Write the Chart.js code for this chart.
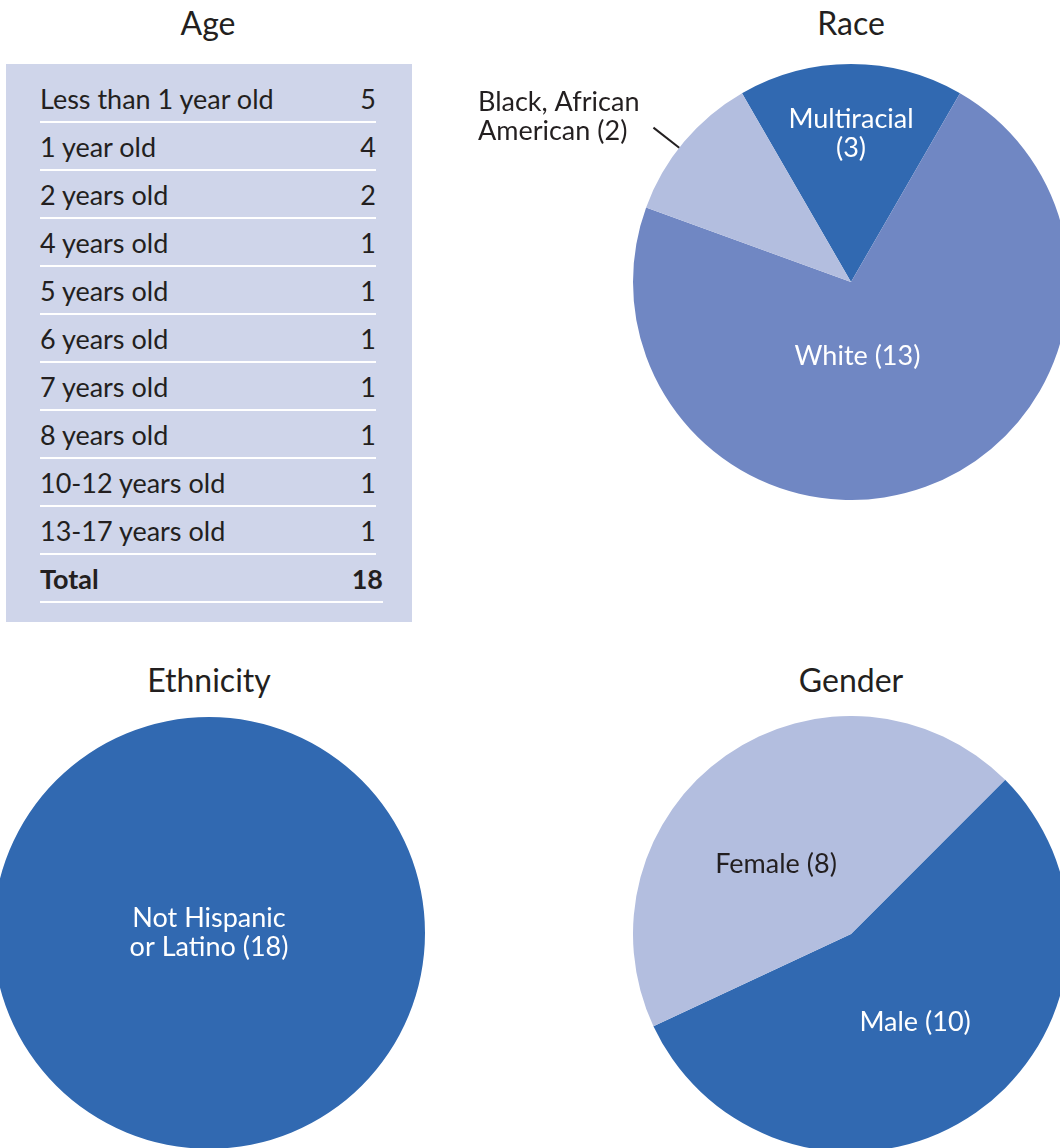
<!DOCTYPE html>
<html>
<head>
<meta charset="utf-8">
<script src="https://cdn.jsdelivr.net/npm/chart.js@4.4.1/dist/chart.umd.min.js"></script>
<style>
  body { margin: 0; width: 1060px; height: 1148px; overflow: hidden; position: relative; background: #fff;
         font-family: Lato, "Open Sans", sans-serif; color: #231f20; }
  .title { position: absolute; font-size: 32px; line-height: 32px; transform: translateX(-50%); white-space: nowrap; }
  canvas { position: absolute; }
  #ageBox { position: absolute; left: 6px; top: 64px; width: 406px; height: 558px; background: #cfd5ea; }
  .row { position: absolute; left: 34px; height: 46px; border-bottom: 2px solid #fff; display: flex;
         justify-content: space-between; align-items: center; font-size: 27px; }
  .row.total { font-weight: bold; }
</style>
</head>
<body>
<div class="title" style="left:208px; top:7px">Age</div>
<div class="title" style="left:851px; top:7px">Race</div>
<div class="title" style="left:209px; top:664px">Ethnicity</div>
<div class="title" style="left:851px; top:664px">Gender</div>

<div id="ageBox"></div>

<canvas id="race" width="620" height="436" style="left:460px; top:64px"></canvas>
<canvas id="ethnicity" width="432" height="432" style="left:-7px; top:717px"></canvas>
<canvas id="gender" width="436" height="436" style="left:633px; top:716px"></canvas>

<script>
// Age table
const ageLabels = ["Less than 1 year old", "1 year old", "2 years old", "4 years old", "5 years old",
  "6 years old", "7 years old", "8 years old", "10-12 years old", "13-17 years old"];
const ageCounts = [5, 4, 2, 1, 1, 1, 1, 1, 1, 1];

// Race pie
const raceLabels = ["Multiracial", "White", "Black, African American"];
const raceCounts = [3, 13, 2];

// Ethnicity pie
const ethnicityLabels = ["Not Hispanic or Latino"];
const ethnicityCounts = [18];

// Gender pie
const genderLabels = ["Male", "Female"];
const genderCounts = [10, 8];

const DARK = "#3169b1", MID = "#7087c3", LIGHT = "#b3bedf";

// build the age table
const box = document.getElementById("ageBox");
const rows = ageLabels.map((l, i) => [l, ageCounts[i], false]);
rows.push(["Total", ageCounts.reduce((a, b) => a + b, 0), true]);
rows.forEach(([label, n, isTotal], i) => {
  const row = document.createElement("div");
  row.className = "row" + (isTotal ? " total" : "");
  row.style.top = (11 + 48 * i) + "px";
  row.style.width = (isTotal ? 343 : 336) + "px";
  row.innerHTML = `<span>${label}</span><span>${n}</span>`;
  box.appendChild(row);
});

// draws the "Label (n)" text on each slice
const sliceLabels = {
  id: "sliceLabels",
  afterDatasetsDraw(chart, args, opts) {
    const ctx = chart.ctx;
    const ds = chart.data.datasets[0];
    chart.getDatasetMeta(0).data.forEach((arc, i) => {
      const st = opts.items[i];
      if (!st) return;
      const p = arc.getProps(["x", "y", "startAngle", "endAngle", "outerRadius"]);
      const words = `${chart.data.labels[i]} (${ds.data[i]})`.split(" ");
      const lines = st.breakAt
        ? [words.slice(0, st.breakAt).join(" "), words.slice(st.breakAt).join(" ")]
        : [words.join(" ")];
      const ang = st.angle != null ? (st.angle - 90) * Math.PI / 180 : (p.startAngle + p.endAngle) / 2;
      const lh = 29;
      ctx.save();
      ctx.font = "27px Lato, 'Open Sans', sans-serif";
      ctx.fillStyle = st.color;
      ctx.textBaseline = "middle";
      let tx, ty;
      if (st.outside) {
        const x0 = p.x + p.outerRadius * Math.cos(ang), y0 = p.y + p.outerRadius * Math.sin(ang);
        const x1 = p.x + p.outerRadius * st.outside * Math.cos(ang), y1 = p.y + p.outerRadius * st.outside * Math.sin(ang);
        ctx.strokeStyle = "#231f20";
        ctx.lineWidth = 2;
        ctx.beginPath();
        ctx.moveTo(x0, y0);
        ctx.lineTo(x1, y1);
        ctx.stroke();
        ctx.textAlign = "left";
        const w = Math.max(...lines.map(l => ctx.measureText(l).width));
        tx = x1 - 14 - w;
        ty = y1 - 11;
      } else {
        ctx.textAlign = "center";
        tx = p.x + p.outerRadius * st.dist * Math.cos(ang);
        ty = p.y + p.outerRadius * st.dist * Math.sin(ang);
      }
      lines.forEach((l, k) => ctx.fillText(l, tx, ty + (k - (lines.length - 1) / 2) * lh));
      ctx.restore();
    });
  }
};

function pie(id, labels, data, colors, rotation, items, padding) {
  new Chart(document.getElementById(id), {
    type: "pie",
    data: { labels, datasets: [{ data, backgroundColor: colors, borderWidth: 0, hoverOffset: 0 }] },
    options: {
      responsive: false,
      animation: false,
      rotation,
      layout: { padding: padding || 0 },
      plugins: { legend: { display: false }, tooltip: { enabled: false }, sliceLabels: { items } }
    },
    plugins: [sliceLabels]
  });
}

pie("race", raceLabels, raceCounts, [DARK, MID, LIGHT], -30, [
  { color: "#fff", dist: 0.68, breakAt: 1 },
  { color: "#fff", dist: 0.34, angle: 175 },
  { color: "#231f20", outside: 1.15, breakAt: 2, angle: 308 }
], { left: 173, right: 11 });

pie("ethnicity", ethnicityLabels, ethnicityCounts, [DARK], 0, [
  { color: "#fff", dist: 0, breakAt: 2 }
]);

pie("gender", genderLabels, genderCounts, [DARK, LIGHT], 45, [
  { color: "#fff", dist: 0.5, angle: 144 },
  { color: "#231f20", dist: 0.47, angle: 313 }
]);
</script>
</body>
</html>
